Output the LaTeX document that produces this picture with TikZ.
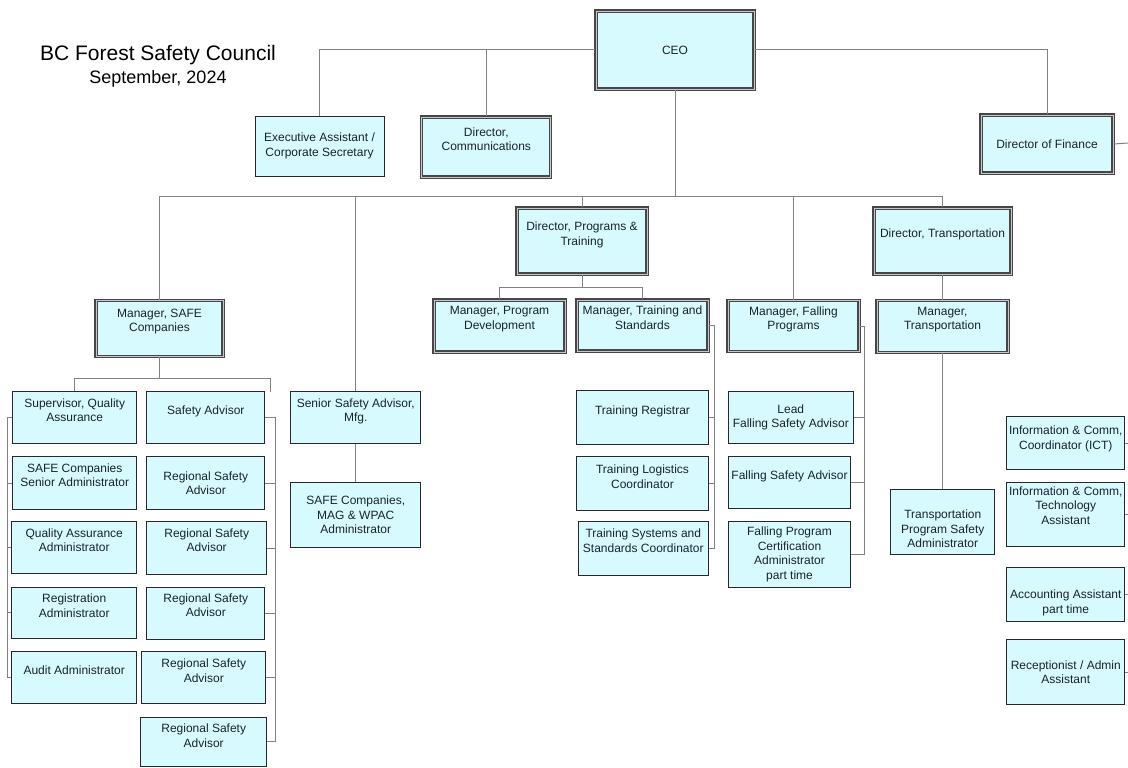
\documentclass[tikz,border=0pt]{standalone}
\usepackage{fontspec}
\setmainfont{Liberation Sans}
\usepackage{xcolor}
\usepackage{tikz}
\definecolor{boxfill}{RGB}{215,250,255}
\definecolor{boxline}{RGB}{40,40,40}
\definecolor{linkgray}{RGB}{130,130,130}
\definecolor{textink}{RGB}{25,35,45}

\begin{document}
\begin{tikzpicture}[x=1pt, y=-1pt,
    every node/.style={font=\fontsize{12}{14.5}\selectfont, text=textink, align=center},
    box/.style={draw=boxline, line width=1pt, fill=boxfill, inner sep=2pt},
    dbox/.style={box, draw=black!72, line width=1.2pt, double=black!22, double distance=0.8pt},
    link/.style={draw=linkgray, line width=1pt}
]
\useasboundingbox (0,0) rectangle (1128,768);

% heading
\node (title) [anchor=base, text=black, font=\fontsize{21}{25}\selectfont] at (158,60.7) {BC Forest Safety Council};
\node (date) [anchor=base, text=black, font=\fontsize{18}{22}\selectfont] at (158,84) {September, 2024};

% top level
\node (ceo) [dbox, minimum width=158pt, minimum height=78pt] at (675,50) {CEO};
\node (execasst) [box, minimum width=129pt, minimum height=60pt] at (319.5,146) {Executive Assistant /\\Corporate Secretary};
\node (dircomm) [dbox, minimum width=129pt, minimum height=60pt] at (486.3,147) {Director,\\Communications\\[1.5pt]};
\node (dirfin) [dbox, minimum width=132pt, minimum height=58pt] at (1047,144) {Director of Finance};

% directors
\node (dirprog) [dbox, minimum width=130pt, minimum height=66pt] at (582,241) {Director, Programs \&\\Training\\};
\node (dirtrans) [dbox, minimum width=137pt, minimum height=66pt] at (942.5,241) {Director, Transportation\\[1.5pt]};

% managers
\node (mgrsafe) [dbox, minimum width=127pt, minimum height=56pt] at (159.5,328.7) {Manager, SAFE\\Companies\\[2.5pt]};
\node (mgrprog) [dbox, minimum width=131pt, minimum height=52pt] at (499.5,326) {Manager, Program\\Development\\[1.5pt]};
\node (mgrtrain) [dbox, minimum width=131pt, minimum height=51pt] at (642.5,325.5) {Manager, Training and\\Standards\\[1.5pt]};
\node (mgrfall) [dbox, minimum width=131pt, minimum height=51pt] at (793.5,326.2) {Manager, Falling\\Programs\\[1.5pt]};
\node (mgrtrans) [dbox, minimum width=131pt, minimum height=51.6pt] at (942.5,326.5) {Manager,\\Transportation\\[1.5pt]};

% safe companies, left column
\node (supqa) [box, minimum width=124pt, minimum height=51.6pt] at (74.7,417.5) {Supervisor, Quality\\Assurance\\};
\node (safeadm) [box, minimum width=124pt, minimum height=52.6pt] at (74.7,483) {SAFE Companies\\Senior Administrator\\[1.5pt]};
\node (qaadm) [box, minimum width=125pt, minimum height=51.6pt] at (74.2,547.5) {Quality Assurance\\Administrator\\};
\node (regadm) [box, minimum width=125pt, minimum height=51pt] at (74.2,612.8) {Registration\\Administrator\\};
\node (audadm) [box, minimum width=125pt, minimum height=51.6pt] at (74.2,677.5) {Audit Administrator\\};

% safe companies, right column
\node (safeadv) [box, minimum width=118.3pt, minimum height=51.6pt] at (205.8,417.5) {Safety Advisor\\};
\node (rsa1) [box, minimum width=118.3pt, minimum height=52.6pt] at (205.8,483) {Regional Safety\\Advisor};
\node (rsa2) [box, minimum width=120pt, minimum height=53.3pt] at (206.7,548.3) {Regional Safety\\Advisor\\[1.5pt]};
\node (rsa3) [box, minimum width=118.3pt, minimum height=52pt] at (205.8,613.3) {Regional Safety\\Advisor\\[1.5pt]};
\node (rsa4) [box, minimum width=124.3pt, minimum height=52.3pt] at (203.8,677.8) {Regional Safety\\Advisor\\};
\node (rsa5) [box, minimum width=126pt, minimum height=48.7pt] at (203.7,741.7) {Regional Safety\\Advisor\\[-2.5pt]};

\node (seniorsa) [box, minimum width=130.3pt, minimum height=51.6pt] at (355.8,417.5) {Senior Safety Advisor,\\Mfg.\\};
\node (mag) [box, minimum width=130.3pt, minimum height=65pt] at (355.8,515.2) {SAFE Companies,\\MAG \& WPAC\\Administrator};

% training
\node (treg) [box, minimum width=131.6pt, minimum height=54pt] at (642.5,417) {Training Registrar\\[-1.5pt]};
\node (tlog) [box, minimum width=131.6pt, minimum height=54.3pt] at (642.5,483.8) {Training Logistics\\Coordinator\\};
\node (tsys) [box, minimum width=130pt, minimum height=54.3pt] at (643.3,548.8) {Training Systems and\\Standards Coordinator\\[1.5pt]};

% falling
\node (lead) [box, minimum width=125pt, minimum height=51.6pt] at (790.8,417.5) {Lead\\Falling Safety Advisor};
\node (fsa) [box, minimum width=122.4pt, minimum height=51.6pt] at (789.5,482.5) {Falling Safety Advisor\\};
\node (fcert) [box, minimum width=122.4pt, minimum height=65.6pt] at (789.5,554.5) {Falling Program\\Certification\\Administrator\\part time};

% transportation
\node (tpsa) [box, minimum width=104.3pt, minimum height=65.3pt] at (942.8,521.7) {\rule{0pt}{23pt}Transportation\\Program Safety\\Administrator};

% finance
\node (ict) [box, minimum width=118.3pt, minimum height=52.6pt] at (1065.8,443) {Information \& Comm,\\Coordinator (ICT)\\[-3.5pt]};
\node (ictasst) [box, minimum width=118.3pt, minimum height=64pt] at (1065.8,514.7) {Information \& Comm,\\Technology\\Assistant\\[4.5pt]};
\node (acct) [box, minimum width=118.3pt, minimum height=54pt] at (1065.8,594.7) {\rule{0pt}{25pt}Accounting Assistant\\part time};
\node (recept) [box, minimum width=118.3pt, minimum height=65.7pt] at (1065.8,672) {Receptionist / Admin\\Assistant};

% rails and buses
\coordinate (finedge) at (1128,143);
\coordinate (bus) at (0,196);
\coordinate (progbus) at (0,287);
\coordinate (safebus) at (0,378);
\coordinate (saleg) at (270,392);
\coordinate (advrail) at (275,0);
\coordinate (qarail) at (7,0);
\coordinate (trainrail) at (714,0);
\coordinate (fallrail) at (864,0);

\draw[link] (execasst.north) |- (ceo.west);
\draw[link] (dircomm.north) -- (dircomm.north |- ceo.west);
\draw[link] (ceo.east) -| (dirfin.north);
\draw[link] (dirfin.east) -- (finedge);
\draw[link] (ceo.south) -- (ceo.south |- bus);
\draw[link] (mgrsafe.north) |- (dirtrans.north |- bus) -- (dirtrans.north);
\foreach \n in {seniorsa, dirprog, mgrfall}
    \draw[link] (\n.north) -- (\n.north |- bus);
\draw[link] (seniorsa) -- (mag);
\draw[link] (dirprog.south) -- (dirprog.south |- progbus);
\draw[link] (mgrprog.north) |- (mgrtrain.north |- progbus) -- (mgrtrain.north);
\draw[link] (dirtrans) -- (mgrtrans);
\draw[link] (mgrtrans.south) -- (mgrtrans.south |- tpsa.north);

\draw[link] (mgrsafe.south) -- (mgrsafe.south |- safebus);
\draw[link] (supqa.north) |- (saleg |- safebus) -- (saleg);
\draw[link] (supqa.west) -| (qarail |- audadm.west) -- (audadm.west);
\foreach \n in {safeadm, qaadm, regadm}
    \draw[link] (\n.west) -- (\n.west -| qarail);
\draw[link] (safeadv.east) -| (advrail |- rsa5.east) -- (rsa5.east);
\foreach \n in {rsa1, rsa2, rsa3, rsa4}
    \draw[link] (\n.east) -- (\n.east -| advrail);

\draw[link] (mgrtrain.east) -| (trainrail |- tsys.east) -- (tsys.east);
\foreach \n in {treg, tlog}
    \draw[link] (\n.east) -- (\n.east -| trainrail);
\draw[link] (mgrfall.east) -| (fallrail |- fcert.east) -- (fcert.east);
\foreach \n in {lead, fsa}
    \draw[link] (\n.east) -- (\n.east -| fallrail);
\foreach \n in {ict, ictasst, acct, recept}
    \draw[link] (\n.east) -- (\n.east -| finedge);
\end{tikzpicture}
\end{document}
